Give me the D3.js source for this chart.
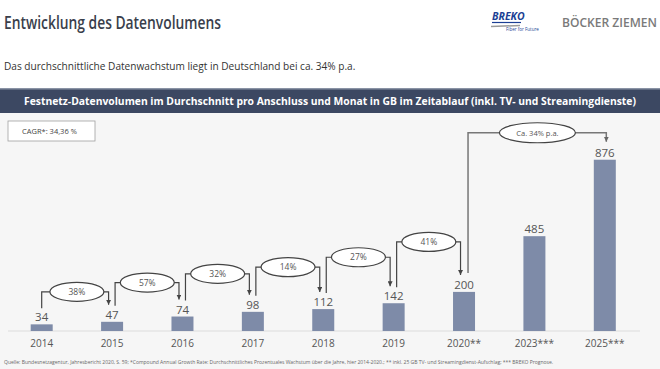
<!DOCTYPE html>
<html>
<head>
<meta charset="utf-8">
<script src="https://cdn.jsdelivr.net/npm/d3@7"></script>
<style>
  body { margin: 0; background: #fff; }
  svg { display: block; font-family: "Open Sans", Lato, sans-serif; }
</style>
</head>
<body>
<div class="chart"></div>
<script>
// chart values
var years = ["2014", "2015", "2016", "2017", "2018", "2019", "2020**", "2023***", "2025***"];
var volumes = [34, 47, 74, 98, 112, 142, 200, 485, 876];
var growth = ["38%", "57%", "32%", "14%", "27%", "41%"];
var longGrowth = "Ca. 34% p.a.";
var cagr = "CAGR*: 34,36 %";

var w = 660, h = 369;
var base = 331;

var svg = d3.select(".chart")
            .append("svg")
            .attr("width", w)
            .attr("height", h);

// the slide font is narrower, so shrink the font size until the text fits
function fit(sel, width) {
  sel.each(function() {
    var t = d3.select(this);
    var len = this.getComputedTextLength();
    if (len > width) {
      var fs = parseFloat(t.attr("font-size"));
      t.attr("font-size", (fs * width / len).toFixed(2) + "px");
    }
  });
}

// backgrounds
svg.append("rect").attr("x", 0).attr("y", 113).attr("width", w).attr("height", h - 113).attr("fill", "#f6f6f6");
svg.append("rect").attr("x", 0).attr("y", 88).attr("width", w).attr("height", 25).attr("fill", "#3c4862");
svg.append("rect").attr("x", 0).attr("y", 88).attr("width", w).attr("height", 1.5).attr("fill", "#8a93a5");

// title + subtitle
svg.append("text").attr("x", 4).attr("y", 29)
   .attr("font-size", "18px").attr("font-weight", 600).attr("fill", "#3a3f4c")
   .attr("textLength", 217).attr("lengthAdjust", "spacingAndGlyphs")
   .text("Entwicklung des Datenvolumens");
svg.append("text").attr("x", 4).attr("y", 70)
   .attr("font-size", "13px").attr("fill", "#333")
   .text("Das durchschnittliche Datenwachstum liegt in Deutschland bei ca. 34% p.a.")
   .call(fit, 352);

// logos
var logo = svg.append("g");
logo.append("text").attr("x", 492).attr("y", 20)
    .attr("font-size", "10.5px").attr("font-weight", 700).attr("font-style", "italic")
    .attr("fill", "#1c3f94").text("BREKO");
logo.append("line").attr("x1", 492).attr("x2", 521).attr("y1", 22.5).attr("y2", 22.5)
    .attr("stroke", "#1c3f94").attr("stroke-width", 1.2);
logo.append("line").attr("x1", 491).attr("x2", 520).attr("y1", 26.5).attr("y2", 25.5)
    .attr("stroke", "#9a9a9a").attr("stroke-width", 1.5);
logo.append("text").attr("x", 506).attr("y", 31)
    .attr("font-size", "4.5px").attr("fill", "#1c3f94").text("Fiber for Future");
svg.append("text").attr("x", 562).attr("y", 27)
   .attr("font-size", "12.5px").attr("font-weight", 600).attr("fill", "#7a7a7a")
   .text("BÖCKER ZIEMEN")
   .call(fit, 95);

// header bar text
svg.append("text").attr("x", w / 2).attr("y", 104.5)
   .attr("text-anchor", "middle")
   .attr("font-size", "11.5px").attr("font-weight", 700).attr("fill", "#fff")
   .text("Festnetz-Datenvolumen im Durchschnitt pro Anschluss und Monat in GB im Zeitablauf (inkl. TV- und Streamingdienste)")
   .call(fit, 612);

// CAGR box
svg.append("rect").attr("x", 8).attr("y", 121).attr("width", 87).attr("height", 20)
   .attr("fill", "#fff").attr("stroke", "#a0a0a0").attr("stroke-width", 0.8);
svg.append("text").attr("x", 22).attr("y", 133.5)
   .attr("font-size", "7.5px").attr("fill", "#444").text(cagr);

// scales
var pi = 0.6875;
var x = d3.scaleBand()
          .domain(years)
          .range([6.5, 640])
          .paddingInner(pi)
          .paddingOuter(pi / 2);
var y = d3.scaleLinear()
          .domain([0, 1115])
          .range([base, 113]);

function cx(i) { return x(years[i]) + x.bandwidth() / 2; }
function level(i) { return y(volumes[i + 1]) - 30 - 4 * i; }

// baseline
svg.append("line").attr("x1", 8).attr("x2", 640).attr("y1", base).attr("y2", base)
   .attr("stroke", "#dcdcdc").attr("stroke-width", 1);

// bars
svg.selectAll(".bar")
   .data(volumes)
   .enter()
   .append("rect")
   .attr("class", "bar")
   .attr("x", function(d, i) { return x(years[i]); })
   .attr("y", function(d) { return y(d); })
   .attr("width", x.bandwidth())
   .attr("height", function(d) { return base - y(d); })
   .attr("fill", "#7e8ba8");

// value labels
svg.selectAll(".val")
   .data(volumes)
   .enter()
   .append("text")
   .attr("class", "val")
   .attr("x", function(d, i) { return cx(i); })
   .attr("y", function(d) { return y(d) - 3; })
   .attr("text-anchor", "middle")
   .attr("font-size", "11.5px").attr("fill", "#555")
   .text(function(d) { return d; });

// year labels
svg.selectAll(".year")
   .data(years)
   .enter()
   .append("text")
   .attr("class", "year")
   .attr("x", function(d) { return x(d) + x.bandwidth() / 2; })
   .attr("y", 347)
   .attr("text-anchor", "middle")
   .attr("font-size", "10px").attr("fill", "#555")
   .text(function(d) { return d; });

// arrow markers
var defs = svg.append("defs");
function marker(id, col) {
  defs.append("marker").attr("id", id)
      .attr("viewBox", "0 0 10 10").attr("refX", 5).attr("refY", 10)
      .attr("markerWidth", 5).attr("markerHeight", 5)
      .attr("markerUnits", "userSpaceOnUse")
      .attr("orient", "0")
      .append("path").attr("d", "M0,0 L10,0 L5,10 Z").attr("fill", col);
}
marker("arr", "#444");
marker("arrBig", "#666");

// year on year brackets
var yoy = svg.selectAll(".yoy")
   .data(growth)
   .enter()
   .append("g")
   .attr("class", "yoy");

yoy.append("path")
   .attr("d", function(d, i) {
     var x1 = cx(i) + (i === 0 ? 0 : 3);
     var x2 = cx(i + 1) - 3.5;
     return "M" + x1 + "," + (y(volumes[i]) - 16) + "V" + level(i) + "H" + x2 + "V" + (y(volumes[i + 1]) - 17);
   })
   .attr("fill", "none").attr("stroke", "#444").attr("stroke-width", 1.2)
   .attr("marker-end", "url(#arr)");

yoy.append("ellipse")
   .attr("cx", function(d, i) { return (cx(i) + cx(i + 1)) / 2; })
   .attr("cy", function(d, i) { return level(i); })
   .attr("rx", 27).attr("ry", 9.5)
   .attr("fill", "#fff").attr("stroke", "#444").attr("stroke-width", 1.2);

yoy.append("text")
   .attr("x", function(d, i) { return (cx(i) + cx(i + 1)) / 2; })
   .attr("y", function(d, i) { return level(i) + 3; })
   .attr("text-anchor", "middle")
   .attr("font-size", "8.5px").attr("fill", "#555")
   .text(function(d) { return d; });

// long bracket 2020 -> 2025
var a = 6, b = 8;
var lvlBig = y(volumes[b]) - 27;
svg.append("path")
   .attr("d", "M" + (cx(a) + 4) + "," + (y(volumes[a]) - 19) + "V" + lvlBig + "H" + (cx(b) + 1.5) + "V" + (y(volumes[b]) - 18))
   .attr("fill", "none").attr("stroke", "#777").attr("stroke-width", 1.5)
   .attr("marker-end", "url(#arrBig)");
svg.append("ellipse")
   .attr("cx", (cx(a) + cx(b)) / 2 + 3).attr("cy", lvlBig)
   .attr("rx", 38).attr("ry", 10)
   .attr("fill", "#fff").attr("stroke", "#444").attr("stroke-width", 1.2);
svg.append("text")
   .attr("x", (cx(a) + cx(b)) / 2 + 3).attr("y", lvlBig + 3)
   .attr("text-anchor", "middle")
   .attr("font-size", "7.5px").attr("fill", "#555")
   .text(longGrowth);

// footnote
svg.append("text").attr("x", 4).attr("y", 364)
   .attr("font-size", "5px").attr("fill", "#666")
   .text("Quelle: Bundesnetzagentur, Jahresbericht 2020, S. 59; *Compound Annual Growth Rate: Durchschnittliches Prozentuales Wachstum über die Jahre, hier 2014-2020.; ** inkl. 25 GB TV- und Streamingdienst-Aufschlag; *** BREKO Prognose.")
   .call(fit, 568);
</script>
</body>
</html>
